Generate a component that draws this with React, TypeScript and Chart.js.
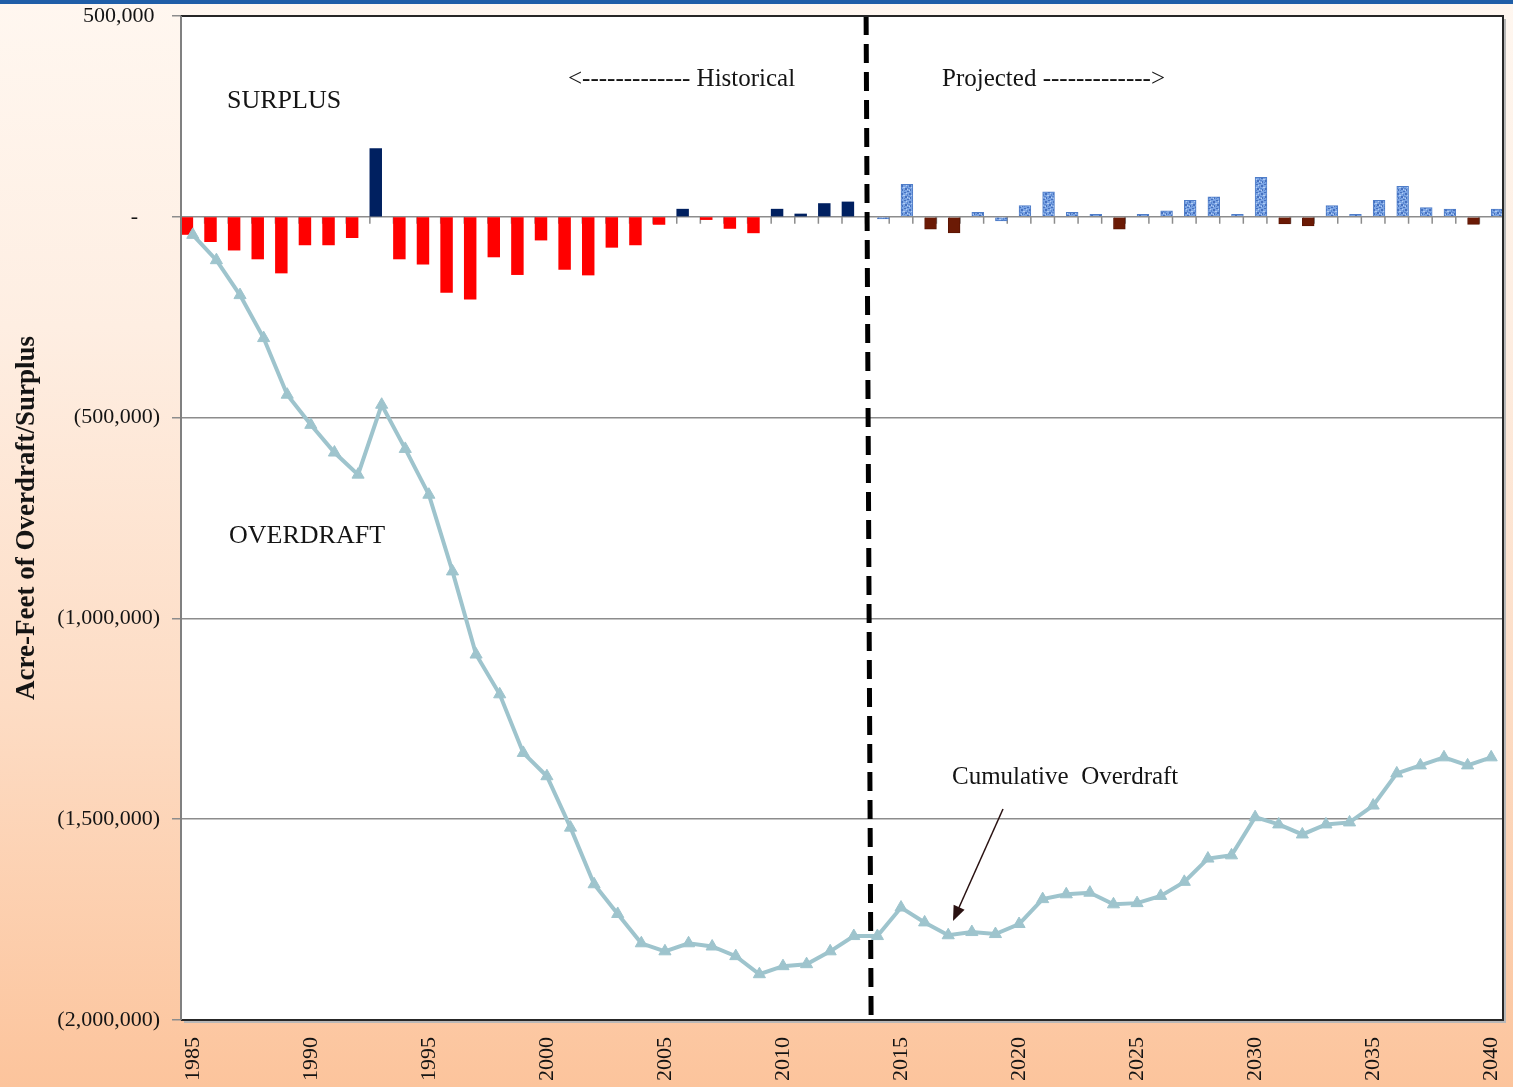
import { useEffect, useRef } from 'react';
import { Chart, registerables } from 'chart.js';

Chart.register(...registerables);

// Water years on the category axis
const years: string[] = Array.from({ length: 56 }, (_, i) => String(1985 + i));

// Annual surplus (+) / overdraft (-), acre-feet, 1985-2013
const historicalValues: number[] = [
  -44000, -62000, -83000, -105000, -140000, -70000, -70000, -52000, 170000, -105000,
  -118000, -188000, -205000, -100000, -144000, -58000, -131000, -145000, -76000, -70000,
  -19000, 19000, -7000, -29000, -40000, 19000, 7000, 33000, 37000,
];

// Projected annual surplus / overdraft, acre-feet, 2014-2040
const projectedStartYear = '2014';
const projectedValues: number[] = [
  -5000, 81000, -31000, -40000, 11000, -10000, 28000, 62000, 11000, 6000,
  -31000, 6000, 15000, 41000, 50000, 6000, 98000, -18000, -23000, 28000,
  6000, 41000, 76000, 23000, 19000, -19000, 19000,
];

// Projected dry years shown in dark brown
const dryProjectedYears: string[] = ['2016', '2017', '2024', '2031', '2032', '2039'];

// Cumulative overdraft, acre-feet, 1985-2040
const cumulativeOverdraft: number[] = [
  -45000, -108000, -195000, -302000, -443000, -518000, -587000, -642000, -468000, -578000,
  -692000, -883000, -1090000, -1189000, -1335000, -1393000, -1521000, -1662000, -1736000, -1809000,
  -1829000, -1809000, -1817000, -1841000, -1886000, -1866000, -1861000, -1829000, -1791000, -1791000,
  -1720000, -1757000, -1789000, -1781000, -1786000, -1761000, -1699000, -1687000, -1683000, -1712000,
  -1709000, -1691000, -1656000, -1598000, -1590000, -1495000, -1513000, -1538000, -1513000, -1508000,
  -1466000, -1386000, -1366000, -1346000, -1366000, -1346000,
];

const FONT = "'Liberation Serif', 'Times New Roman', serif";
const TEXT = '#141414';

// mottled blue fill used for projected wet-year bars
function speckledBlue(): CanvasPattern | string {
  const c = document.createElement('canvas');
  c.width = 8;
  c.height = 8;
  const g = c.getContext('2d');
  if (!g) return '#6F9CE0';
  g.fillStyle = '#7AA4E4';
  g.fillRect(0, 0, 8, 8);
  g.fillStyle = '#4670BE';
  [[0, 0, 2, 1], [5, 1, 2, 2], [1, 4, 2, 2], [6, 5, 1, 2], [3, 7, 2, 1]].forEach(([x, y, w, h]) =>
    g.fillRect(x, y, w, h),
  );
  g.fillStyle = '#5A86CF';
  [[3, 2, 1, 2], [0, 6, 1, 1], [4, 4, 2, 1]].forEach(([x, y, w, h]) => g.fillRect(x, y, w, h));
  g.fillStyle = '#B6CEF2';
  [[2, 1, 1, 1], [7, 3, 1, 1], [0, 3, 1, 1], [5, 6, 1, 1], [3, 5, 1, 1]].forEach(([x, y, w, h]) =>
    g.fillRect(x, y, w, h),
  );
  return g.createPattern(c, 'repeat') || '#6F9CE0';
}

const decorations = {
  id: 'decorations',
  beforeDraw(chart: any) {
    const { ctx, chartArea: a } = chart;
    ctx.save();
    ctx.fillStyle = '#ffffff';
    ctx.fillRect(a.left, a.top, a.right - a.left, a.bottom - a.top);
    ctx.restore();
  },
  beforeDatasetsDraw(chart: any) {
    // small tick marks on the zero axis at category boundaries
    const { ctx, chartArea: a, scales } = chart;
    const y0 = scales.y.getPixelForValue(0);
    const n = years.length;
    const w = (a.right - a.left) / n;
    ctx.save();
    ctx.strokeStyle = '#8c8c8c';
    ctx.lineWidth = 1.5;
    ctx.beginPath();
    for (let i = 0; i <= n; i++) {
      const x = a.left + i * w;
      ctx.moveTo(x, y0);
      ctx.lineTo(x, y0 + 7);
    }
    ctx.stroke();
    ctx.restore();
  },
  afterDatasetsDraw(chart: any) {
    const { ctx, chartArea: a, scales } = chart;
    const w = (a.right - a.left) / years.length;

    // historical / projected divider
    const xb = scales.x.getPixelForValue(years.indexOf(projectedStartYear)) - w / 2;
    ctx.save();
    ctx.strokeStyle = '#000000';
    ctx.lineWidth = 5;
    ctx.setLineDash([19, 9]);
    ctx.beginPath();
    ctx.moveTo(xb + 0.5, a.top);
    ctx.lineTo(xb + 5.5, a.bottom);
    ctx.stroke();
    ctx.restore();

    // plot frame with a soft shadow
    ctx.save();
    ctx.strokeStyle = '#b8b8b8';
    ctx.lineWidth = 2;
    ctx.beginPath();
    ctx.moveTo(a.right + 2, a.top + 3);
    ctx.lineTo(a.right + 2, a.bottom + 2);
    ctx.lineTo(a.left + 3, a.bottom + 2);
    ctx.stroke();
    ctx.strokeStyle = '#262626';
    ctx.beginPath();
    ctx.moveTo(a.left, a.top);
    ctx.lineTo(a.right, a.top);
    ctx.lineTo(a.right, a.bottom);
    ctx.lineTo(a.left, a.bottom);
    ctx.stroke();
    ctx.strokeStyle = '#808080';
    ctx.beginPath();
    ctx.moveTo(a.left, a.top);
    ctx.lineTo(a.left, a.bottom);
    ctx.stroke();
    ctx.restore();

    // labels inside the plot
    ctx.save();
    ctx.fillStyle = TEXT;
    ctx.textAlign = 'left';
    ctx.textBaseline = 'alphabetic';
    ctx.font = `26px ${FONT}`;
    ctx.fillText('SURPLUS', a.left + 46, a.top + 92);
    ctx.fillText('OVERDRAFT', a.left + 48, a.top + 527);
    ctx.font = `25px ${FONT}`;
    ctx.fillText('<------------- Historical', a.left + 387, a.top + 70);
    ctx.fillText('Projected ------------->', a.left + 761, a.top + 70);
    ctx.fillText('Cumulative  Overdraft', a.left + 771, a.top + 768);

    // arrow pointing at the cumulative line
    const x1 = a.left + 822, y1 = a.top + 793;
    const x2 = a.left + 772, y2 = a.top + 905;
    const ang = Math.atan2(y2 - y1, x2 - x1);
    const hl = 15, hw = 6;
    ctx.strokeStyle = '#2a1212';
    ctx.fillStyle = '#2a1212';
    ctx.lineWidth = 1.5;
    ctx.beginPath();
    ctx.moveTo(x1, y1);
    ctx.lineTo(x2 - Math.cos(ang) * hl * 0.8, y2 - Math.sin(ang) * hl * 0.8);
    ctx.stroke();
    ctx.beginPath();
    ctx.moveTo(x2, y2);
    ctx.lineTo(x2 - Math.cos(ang) * hl - Math.sin(ang) * hw, y2 - Math.sin(ang) * hl + Math.cos(ang) * hw);
    ctx.lineTo(x2 - Math.cos(ang) * hl + Math.sin(ang) * hw, y2 - Math.sin(ang) * hl - Math.cos(ang) * hw);
    ctx.closePath();
    ctx.fill();
    ctx.restore();
  },
  afterDraw(chart: any) {
    const { ctx, chartArea: a } = chart;
    ctx.save();
    ctx.translate(27, (a.top + a.bottom) / 2);
    ctx.rotate(-Math.PI / 2);
    ctx.fillStyle = TEXT;
    ctx.font = `bold 27px ${FONT}`;
    ctx.textAlign = 'center';
    ctx.textBaseline = 'middle';
    ctx.fillText('Acre-Feet of Overdraft/Surplus', 0, 0);
    ctx.restore();
  },
};

function yLabel(v: number): string {
  if (v === 0) return '-    ';
  const s = Math.abs(v).toLocaleString('en-US');
  return v < 0 ? `(${s})` : `${s} `;
}

export default function App() {
  const ref = useRef<HTMLCanvasElement>(null);

  useEffect(() => {
    const canvas = ref.current;
    if (!canvas) return;
    const blue = speckledBlue();
    const projStart = years.indexOf(projectedStartYear);
    const historicalData = years.map((_, i) => (i < historicalValues.length ? historicalValues[i] : null));
    const projectedData = years.map((_, i) => (i >= projStart ? projectedValues[i - projStart] : null));

    const chart = new Chart(canvas, {
      type: 'bar',
      data: {
        labels: years,
        datasets: [
          {
            type: 'line',
            label: 'Cumulative Overdraft',
            data: cumulativeOverdraft,
            borderColor: '#9EC4CD',
            backgroundColor: '#9EC4CD',
            borderWidth: 4,
            pointStyle: 'triangle',
            pointRadius: 7,
            pointBackgroundColor: '#9EC4CD',
            pointBorderColor: '#9EC4CD',
            pointBorderWidth: 1,
            tension: 0,
            order: 0,
          } as any,
          {
            type: 'bar',
            label: 'Historical',
            data: historicalData,
            backgroundColor: (c: any) => ((c.raw ?? 0) >= 0 ? '#002060' : '#FF0000'),
            borderWidth: 0,
            barPercentage: 1,
            categoryPercentage: 1,
            order: 1,
          },
          {
            type: 'bar',
            label: 'Projected',
            data: projectedData,
            backgroundColor: (c: any) => (dryProjectedYears.includes(years[c.dataIndex]) ? '#6B1A05' : blue),
            borderColor: (c: any) => (dryProjectedYears.includes(years[c.dataIndex]) ? '#5A1403' : '#4F7DC8'),
            borderWidth: 1,
            barPercentage: 1,
            categoryPercentage: 1,
            order: 1,
          },
        ],
      },
      options: {
        responsive: false,
        devicePixelRatio: 1,
        animation: false,
        layout: { padding: { top: 16, right: 10, left: 0, bottom: 0 } },
        plugins: {
          legend: { display: false },
          tooltip: { enabled: false },
        },
        scales: {
          x: {
            type: 'category',
            offset: true,
            grid: { display: false, drawTicks: false, offset: true },
            border: { display: false },
            ticks: {
              autoSkip: false,
              minRotation: 90,
              maxRotation: 90,
              padding: 17,
              color: TEXT,
              font: { family: FONT, size: 22 },
              callback: (_v: any, i: number) => (i % 5 === 0 ? years[i] : ''),
            },
            afterFit: (s: any) => {
              s.height = 67;
              s.paddingLeft = 0;
              s.paddingRight = 0;
            },
          },
          y: {
            min: -2000000,
            max: 500000,
            ticks: {
              stepSize: 500000,
              padding: 12,
              color: TEXT,
              font: { family: FONT, size: 22 },
              callback: (v: any) => yLabel(Number(v)),
            },
            grid: { color: '#8c8c8c', lineWidth: 1.5, tickLength: 9, drawTicks: true },
            border: { display: true, color: '#808080', width: 2 },
            afterFit: (s: any) => {
              s.width = 181;
              s.paddingTop = 0;
              s.paddingBottom = 0;
            },
          },
        },
      },
      plugins: [decorations],
    });
    return () => chart.destroy();
  }, []);

  return (
    <div
      style={{
        position: 'fixed',
        left: 0,
        top: 0,
        width: 1513,
        height: 1087,
        overflow: 'hidden',
        background: 'linear-gradient(180deg, #FFF7F0 0%, #FEEEE2 30%, #FDDCC4 65%, #FCC49C 100%)',
      }}
    >
      <div style={{ position: 'absolute', left: 0, top: 0, width: '100%', height: 4, background: '#1F5EA8' }} />
      <canvas
        ref={ref}
        width={1513}
        height={1087}
        style={{ position: 'absolute', left: 0, top: 0, width: 1513, height: 1087 }}
      />
    </div>
  );
}
